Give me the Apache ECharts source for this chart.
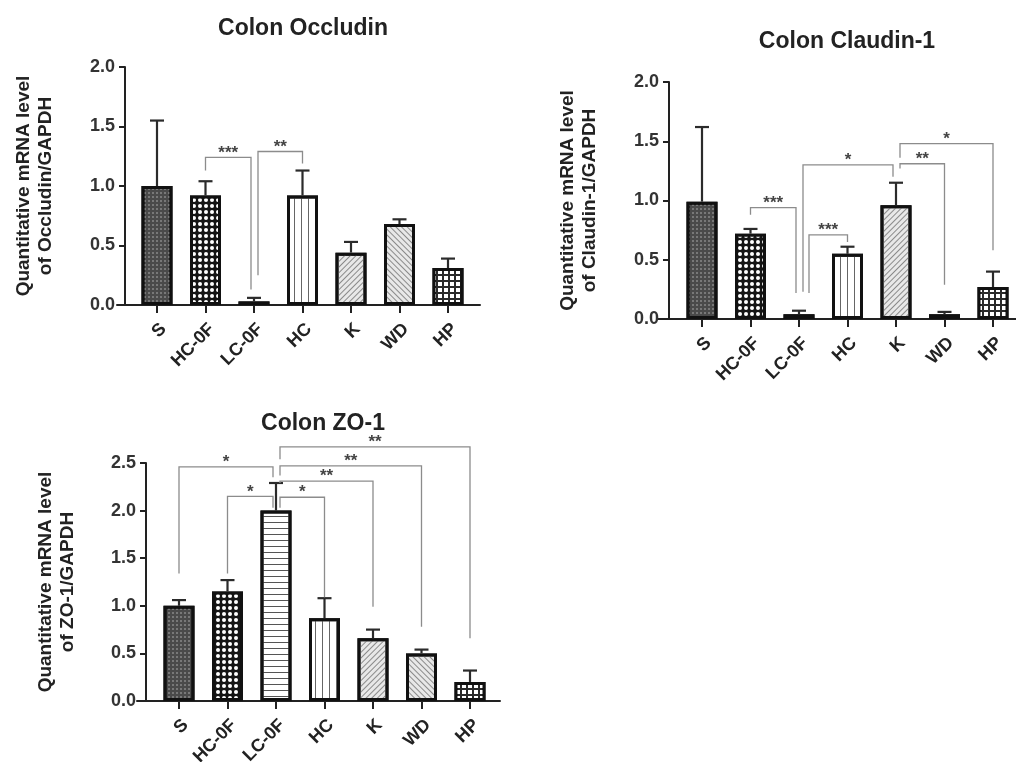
<!DOCTYPE html>
<html>
<head>
<meta charset="utf-8">
<script src="https://cdn.jsdelivr.net/npm/echarts/dist/echarts.min.js"></script>
<style>
html,body{margin:0;padding:0;background:#fff;}
#main{width:1016px;height:762px;}
</style>
</head>
<body>
<div id="main"></div>
<script>
// ---- data ----
const categories = ['S', 'HC-0F', 'LC-0F', 'HC', 'K', 'WD', 'HP'];

const occludinMean = [1.00, 0.92, 0.03, 0.92, 0.44, 0.68, 0.31];
const occludinErr  = [0.55, 0.12, 0.03, 0.21, 0.09, 0.04, 0.08];

const claudinMean = [0.99, 0.72, 0.04, 0.55, 0.96, 0.04, 0.27];
const claudinErr  = [0.63, 0.04, 0.03, 0.06, 0.19, 0.02, 0.13];

const zo1Mean = [1.00, 1.15, 2.00, 0.87, 0.66, 0.50, 0.20];
const zo1Err  = [0.06, 0.12, 0.29, 0.21, 0.09, 0.04, 0.12];

// brackets: [fromIndex, toIndex, topLevel, leftLegBottom, rightLegBottom]
const occludinSig = [[1, 2, 1.24, 1.13, 0.13], [2, 3, 1.29, 0.25, 1.19]];
const occludinSigText = ['***', '**'];

const claudinSig = [[1, 2, 0.94, 0.88, 0.22], [2, 3, 0.71, 0.22, 0.65], [2, 4, 1.30, 0.23, 1.20],
                    [4, 5, 1.31, 1.27, 0.29], [4, 6, 1.48, 1.36, 0.58]];
const claudinSigText = ['***', '***', '*', '**', '*'];

const zo1Sig = [[0, 2, 2.46, 1.34, 2.35], [1, 2, 2.15, 1.34, 2.03], [2, 3, 2.14, 2.03, 1.09],
                [2, 4, 2.31, 2.29, 0.99], [2, 5, 2.47, 2.37, 0.78], [2, 6, 2.67, 2.54, 0.66]];
const zo1SigText = ['*', '*', '*', '**', '**', '**'];

const titles = ['Colon Occludin', 'Colon Claudin-1', 'Colon ZO-1'];
const yNames = ['Quantitative mRNA level\nof Occludin/GAPDH',
                'Quantitative mRNA level\nof Claudin-1/GAPDH',
                'Quantitative mRNA level\nof ZO-1/GAPDH'];
const yMax = [2.0, 2.0, 2.5];

// ---- styles ----
const FONT = '"Liberation Sans", Arial, sans-serif';
const TXT = '#222';
const barStyles = [
  { color: '#4a4a4a', decal: { symbol: 'circle', symbolSize: 1, color: 'rgba(255,255,255,0.35)', dashArrayX: [1.5, 1.5], dashArrayY: [1.5, 1.5] } },
  { color: '#151515', decal: { symbol: 'circle', symbolSize: 1, color: '#ffffff', dashArrayX: [4, 2], dashArrayY: [4, 2] } },
  { color: '#ffffff', decal: { symbol: 'rect', symbolSize: 1, color: '#555', dashArrayX: [1, 0], dashArrayY: [1, 5] } },
  { color: '#ffffff', decal: { symbol: 'rect', symbolSize: 1, color: '#666', dashArrayX: [1, 6], dashArrayY: [1, 0] } },
  { color: '#e8e8e8', decal: { symbol: 'rect', symbolSize: 1, color: '#8a8a8a', dashArrayX: [1, 0], dashArrayY: [1, 3], rotation: -Math.PI / 4 } },
  { color: '#e8e8e8', decal: { symbol: 'rect', symbolSize: 1, color: '#8a8a8a', dashArrayX: [1, 0], dashArrayY: [1, 3], rotation: Math.PI / 4 } },
  { color: '#2a2a2a', decal: { symbol: 'rect', symbolSize: 1, color: '#ffffff', dashArrayX: [4, 1.5], dashArrayY: [4, 1.5] } }
];

// layout (pixels)
const panels = [
  { left: 132.75, top: 67, width: 339.5, height: 238, yOffset: 7.75, nameGap: 68, lineLeft: 117, lineWidth: 363, title: [303, 17] },
  { left: 677.75, top: 82, width: 339.5, height: 237, yOffset: 8.75, nameGap: 68, lineLeft: 658, lineWidth: 358, title: [847, 30] },
  { left: 154.75, top: 463, width: 339.5, height: 238, yOffset: 8.75, nameGap: 67, lineLeft: 137, lineWidth: 363, title: [323, 412] }
];

const means = [occludinMean, claudinMean, zo1Mean];
const errs = [occludinErr, claudinErr, zo1Err];
const sigs = [occludinSig, claudinSig, zo1Sig];
const sigTexts = [occludinSigText, claudinSigText, zo1SigText];

// leg nudges so that several brackets meeting one bar do not overlap
function legNudges(sig) {
  const count = {};
  sig.forEach(b => { count[b[0]] = (count[b[0]] || 0) + 1; count[b[1]] = (count[b[1]] || 0) + 1; });
  const res = sig.map(() => ({ l: 0, r: 0 }));
  const placed = {};
  const order = sig.map((b, i) => i).sort((a, b) => (sig[b][1] - sig[b][0]) - (sig[a][1] - sig[a][0]));
  order.forEach(idx => {
    const b = sig[idx];
    [['l', b[0], b[3], b[2], 4, 1], ['r', b[1], b[4], b[2], -3, -1]].forEach(([side, bar, lo, hi, base, sgn]) => {
      if (count[bar] < 2) return;
      const key = bar + side;
      placed[key] = placed[key] || [];
      let k = 0;
      while (placed[key].some(p => p.k === k && !(hi < p.lo || lo > p.hi))) k++;
      placed[key].push({ k, lo, hi });
      res[idx][side] = base + sgn * 6 * k;
    });
  });
  return res;
}

const option = {
  animation: false,
  backgroundColor: '#ffffff',
  aria: { enabled: true, decal: { show: true } },
  title: [], grid: [], xAxis: [], yAxis: [], series: []
};

panels.forEach((p, k) => {
  option.title.push({
    text: titles[k], left: p.title[0], top: p.title[1], textAlign: 'center', padding: 0,
    textStyle: { fontFamily: FONT, fontSize: 23, fontWeight: 'bold', color: TXT }
  });
  option.grid.push({ left: p.left, top: p.top, width: p.width, height: p.height, containLabel: false, outerBoundsMode: 'none' });
  option.grid.push({ left: p.lineLeft, top: p.top, width: p.lineWidth, height: p.height, containLabel: false, outerBoundsMode: 'none' });
  const gMain = 2 * k, gLine = 2 * k + 1;
  option.xAxis.push({
    type: 'category', gridIndex: gMain, data: categories, boundaryGap: true,
    axisLine: { show: false },
    axisTick: { show: true, alignWithLabel: true, length: 8, lineStyle: { color: TXT, width: 2 } },
    axisLabel: { interval: 0, rotate: 45, margin: 15, verticalAlign: 'top',
                 fontFamily: FONT, fontSize: 18, fontWeight: 'bold', color: TXT },
    splitLine: { show: false }
  });
  option.xAxis.push({
    type: 'value', gridIndex: gLine, min: 0, max: 1,
    axisLine: { show: true, onZero: false, lineStyle: { color: TXT, width: 2 } },
    axisTick: { show: false }, axisLabel: { show: false }, splitLine: { show: false }
  });
  option.yAxis.push({
    type: 'value', gridIndex: gMain, min: 0, max: yMax[k], interval: 0.5, offset: p.yOffset,
    name: yNames[k], nameLocation: 'middle', nameGap: p.nameGap, nameRotate: 90,
    nameTextStyle: { fontFamily: FONT, fontSize: 19, fontWeight: 'bold', color: TXT, lineHeight: 22 },
    axisLine: { show: true, lineStyle: { color: TXT, width: 2 } },
    axisTick: { show: true, length: 6, lineStyle: { color: TXT, width: 2 } },
    axisLabel: { margin: 10, fontFamily: FONT, fontSize: 18, fontWeight: 'bold', color: '#333',
                 formatter: v => v.toFixed(1) },
    splitLine: { show: false }
  });
  option.yAxis.push({ type: 'value', gridIndex: gLine, min: 0, max: 1, show: false, splitLine: { show: false } });

  option.series.push({
    type: 'bar', xAxisIndex: gMain, yAxisIndex: gMain, barWidth: 31, z: 3,
    data: means[k].map((v, i) => ({
      value: v,
      itemStyle: { color: barStyles[i].color, decal: barStyles[i].decal, borderColor: '#111', borderWidth: 3 }
    }))
  });
  option.series.push({
    type: 'custom', xAxisIndex: gMain, yAxisIndex: gMain, z: 4,
    encode: { x: 0, y: 1 },
    data: means[k].map((v, i) => [i, v, errs[k][i]]),
    renderItem: (params, api) => {
      const i = api.value(0), v = api.value(1), e = api.value(2);
      const b = api.coord([i, v]), t = api.coord([i, v + e]);
      const st = { stroke: '#2b2b2b', lineWidth: 2.2 };
      return { type: 'group', children: [
        { type: 'line', shape: { x1: b[0], y1: b[1], x2: t[0], y2: t[1] }, style: st },
        { type: 'line', shape: { x1: t[0] - 7, y1: t[1], x2: t[0] + 7, y2: t[1] }, style: st }
      ] };
    }
  });
  const nud = legNudges(sigs[k]);
  const txt = sigTexts[k];
  option.series.push({
    type: 'custom', xAxisIndex: gMain, yAxisIndex: gMain, z: 5, clip: false,
    encode: { x: [0, 1], y: [2, 3, 4] },
    data: sigs[k],
    renderItem: (params, api) => {
      const i = api.value(0), j = api.value(1), top = api.value(2), lb = api.value(3), rb = api.value(4);
      const n = nud[params.dataIndex];
      const pl = api.coord([i, lb]), pt = api.coord([i, top]), pr = api.coord([j, rb]);
      const xl = pl[0] + n.l, xr = pr[0] + n.r;
      return { type: 'group', children: [
        { type: 'polyline', shape: { points: [[xl, pl[1]], [xl, pt[1]], [xr, pt[1]], [xr, pr[1]]] },
          style: { stroke: '#8c8c8c', lineWidth: 1.3, fill: null } },
        { type: 'text', style: { text: txt[params.dataIndex], x: (xl + xr) / 2, y: pt[1] + 4,
          align: 'center', verticalAlign: 'bottom', font: 'bold 17px ' + FONT, fill: '#444' } }
      ] };
    }
  });
});

const chart = echarts.init(document.getElementById('main'), null, { renderer: 'canvas' });
chart.setOption(option);
</script>
</body>
</html>
